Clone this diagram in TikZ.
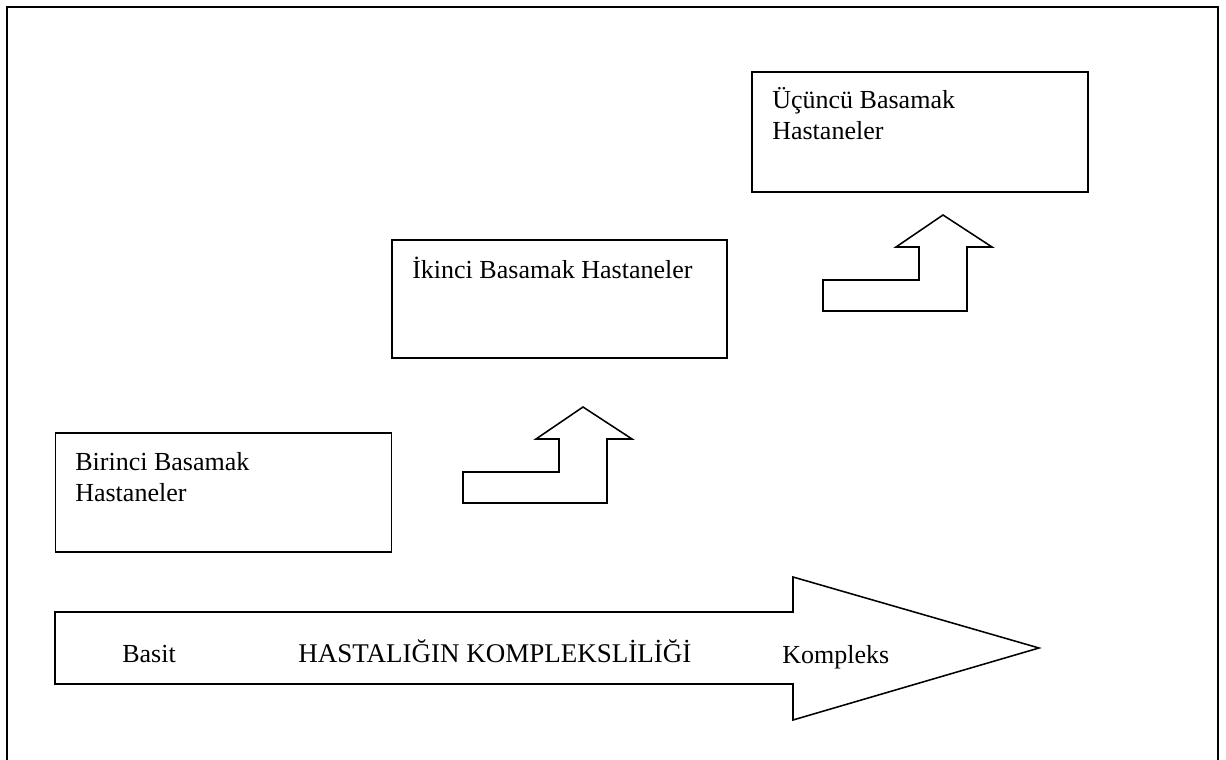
\documentclass[tikz,border=0pt]{standalone}
\usepackage{fontspec}
\setmainfont{Liberation Serif}
\usetikzlibrary{positioning}
\tikzset{x=0.025cm, y=-0.025cm,
hbox/.style={ % hospital level boxes
draw, line width=1.1pt, minimum width=8.4cm, minimum height=2.98cm},
htext/.style={ % text inside the boxes
inner sep=0pt, align=left, anchor=north west,
font=\fontsize{18.5}{22.5}\selectfont},
ltext/.style={
inner sep=0pt, anchor=base west, font=\fontsize{18.5}{22.5}\selectfont},
steparrow/.style={draw, line width=1.1pt, line join=miter}}

\begin{document}
\begin{tikzpicture}
\useasboundingbox (0,0) rectangle (1226,760);
% outer frame, open at the bottom
\draw[line width=1.5pt] (7,760) -- (7,7) -- (1218,7) -- (1218,760);

\node[hbox] (first) at (223.5,492.5) {};
\node[hbox, minimum width=8.375cm, minimum height=2.95cm] (second) at (559.5,299) {};
\node[hbox, minimum height=3cm] (third) at (920,132) {};

\node[htext] (firsttext) at (75,452) {Birinci Basamak\\Hastaneler};
\node[htext] (secondtext) at (412,257) {İkinci Basamak Hastaneler};
\node[htext] (thirdtext) at (772,87) {Üçüncü Basamak\\Hastaneler};

% step arrows between the levels
\foreach \o in {(463,503), (823,311)}
  \draw[steparrow, shift={\o}] (0,0) -- (0,-31) -- (96,-31) -- (96,-64)
    -- (73,-64) -- (120,-96) -- (169,-64) -- (144,-64) -- (144,0) -- cycle;

% complexity arrow
\draw[steparrow] (55,612) -- (793,612) -- (793,577) -- (1039,648)
  -- (793,720) -- (793,684) -- (55,684) -- cycle;
\node[ltext] (basit) at (122,663) {Basit};
\node[ltext, font=\fontsize{19.2}{23}\selectfont] (complexity) at (298,663) {HASTALIĞIN KOMPLEKSLİLİĞİ};
\node[ltext] (kompleks) at (782,664) {Kompleks};
\end{tikzpicture}
\end{document}
